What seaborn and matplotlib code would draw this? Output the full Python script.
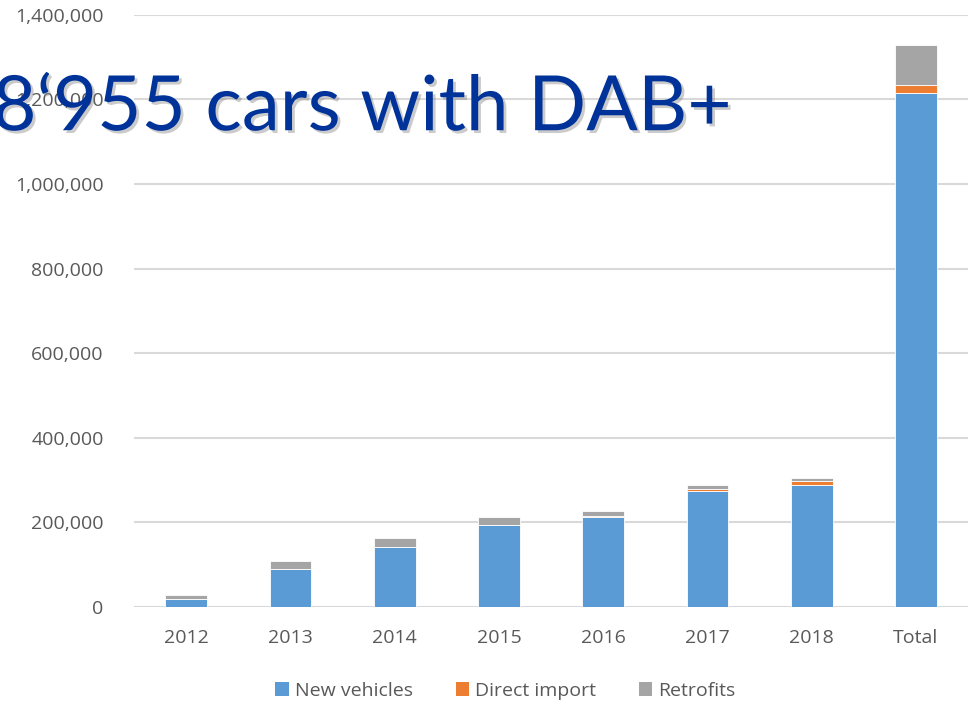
import numpy as np
import pandas as pd
import matplotlib
matplotlib.use("Agg")
import matplotlib.pyplot as plt
import matplotlib.patheffects as pe
from matplotlib.ticker import FuncFormatter
from matplotlib.patches import Patch
import seaborn as sns

years = ["2012", "2013", "2014", "2015", "2016", "2017", "2018"]
new_vehicles = [18000, 90000, 142000, 193000, 211500, 273500, 287500]
direct_import = [0, 0, 0, 0, 3000, 5500, 9500]
retrofits = [9500, 17500, 20500, 20500, 11000, 8500, 8500]
series_names = ["New vehicles", "Direct import", "Retrofits"]
series_colors = ["#5B9BD5", "#ED7D31", "#A5A5A5"]
headline = "8\u2018955 cars with DAB+"

categories = years + ["Total"]
layers = [new_vehicles, direct_import, retrofits]
layers = [list(v) + [sum(v)] for v in layers]

sns.set_theme(style="white")
plt.rcParams["font.family"] = ["Open Sans", "DejaVu Sans"]

fig = plt.figure(figsize=(9.72, 7.04), dpi=100)
ax = fig.add_axes([0.138, 0.138, 0.858, 0.841])

bottom = np.zeros(len(categories))
for name, vals, col in zip(series_names, layers, series_colors):
    df = pd.DataFrame({"category": categories, "value": vals})
    sns.barplot(data=df, x="category", y="value", color=col, width=0.4,
                bottom=bottom, ax=ax, edgecolor="white", linewidth=0.6,
                saturation=1, zorder=3)
    bottom = bottom + np.array(vals, dtype=float)

ax.set_ylim(0, 1400000)
ax.set_yticks(np.arange(0, 1400001, 200000))
ax.yaxis.set_major_formatter(FuncFormatter(lambda v, p: f"{int(v):,}"))
ax.grid(axis="y", color="#d9d9d9", linewidth=1.5, zorder=0)
ax.set_axisbelow(True)
for s in ax.spines.values():
    s.set_visible(False)
ax.set_xlabel("")
ax.set_ylabel("")
ax.tick_params(axis="both", length=0, labelsize=14, labelcolor="#595959")
ax.tick_params(axis="y", pad=22)
ax.tick_params(axis="x", pad=16)
ax.set_xlim(-0.5, len(categories) - 0.5)

handles = [Patch(facecolor=c, edgecolor="none") for c in series_colors]
fig.legend(handles, series_names, loc="center", bbox_to_anchor=(0.52, 0.019),
           ncol=3, frameon=False, fontsize=14, labelcolor="#595959",
           handlelength=0.7, handleheight=0.7, handletextpad=0.3,
           columnspacing=2.2)

fig.text(-0.008, 0.815, headline, fontsize=55, color="#003399",
         ha="left", va="baseline", family=["Lato", "DejaVu Sans"],
         weight="normal",
         path_effects=[pe.withSimplePatchShadow(offset=(2, -2),
                                                shadow_rgbFace="#7f7f7f",
                                                alpha=0.4)])

fig.savefig("out.png", dpi=100)
